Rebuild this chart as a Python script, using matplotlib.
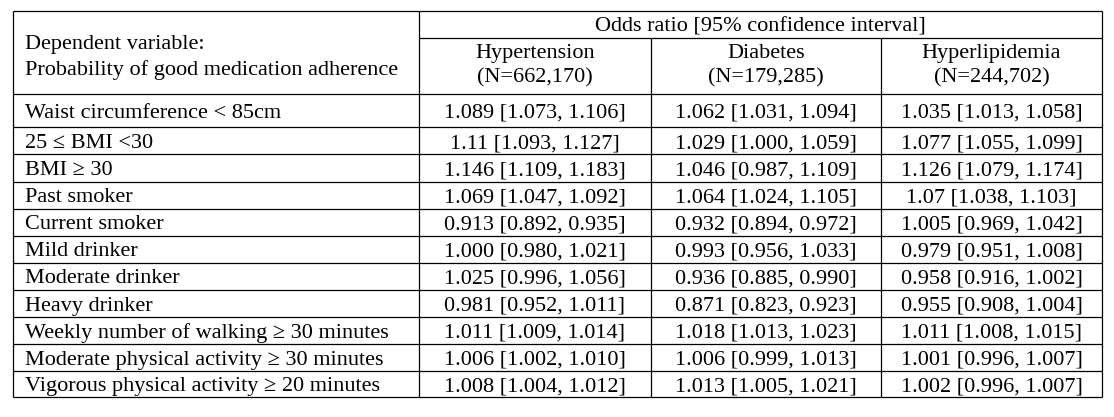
import matplotlib
matplotlib.use('Agg')
import matplotlib.pyplot as plt

# table content
row_labels = [
    "Waist circumference < 85cm",
    "25 \u2264 BMI <30",
    "BMI \u2265 30",
    "Past smoker",
    "Current smoker",
    "Mild drinker",
    "Moderate drinker",
    "Heavy drinker",
    "Weekly number of walking \u2265 30 minutes",
    "Moderate physical activity \u2265 30 minutes",
    "Vigorous physical activity \u2265 20 minutes",
]
groups = ["Hypertension", "Diabetes", "Hyperlipidemia"]
group_n = ["(N=662,170)", "(N=179,285)", "(N=244,702)"]

ht_or = ["1.089", "1.11", "1.146", "1.069", "0.913", "1.000", "1.025", "0.981", "1.011", "1.006", "1.008"]
ht_lo = ["1.073", "1.093", "1.109", "1.047", "0.892", "0.980", "0.996", "0.952", "1.009", "1.002", "1.004"]
ht_hi = ["1.106", "1.127", "1.183", "1.092", "0.935", "1.021", "1.056", "1.011", "1.014", "1.010", "1.012"]

dm_or = ["1.062", "1.029", "1.046", "1.064", "0.932", "0.993", "0.936", "0.871", "1.018", "1.006", "1.013"]
dm_lo = ["1.031", "1.000", "0.987", "1.024", "0.894", "0.956", "0.885", "0.823", "1.013", "0.999", "1.005"]
dm_hi = ["1.094", "1.059", "1.109", "1.105", "0.972", "1.033", "0.990", "0.923", "1.023", "1.013", "1.021"]

hl_or = ["1.035", "1.077", "1.126", "1.07", "1.005", "0.979", "0.958", "0.955", "1.011", "1.001", "1.002"]
hl_lo = ["1.013", "1.055", "1.079", "1.038", "0.969", "0.951", "0.916", "0.908", "1.008", "0.996", "0.996"]
hl_hi = ["1.058", "1.099", "1.174", "1.103", "1.042", "1.008", "1.002", "1.004", "1.015", "1.007", "1.007"]

fig = plt.figure(figsize=(11.14, 4.17), dpi=100)
ax = fig.add_axes([0, 0, 1, 1])
ax.set_xlim(0, 1114)
ax.set_ylim(417, 0)
ax.axis('off')

fs = 16
font = {'family': 'Liberation Serif', 'size': fs, 'color': 'black'}
half_cap = 0.662 * fs * 100 / 72 / 2  # shift so caps sit centred on a row
lw = 0.9

# grid geometry (pixels)
x_left, x_right = 12.7, 1102
col_x = [x_left, 419, 651, 881, x_right]
y_top, y_sub, y_head = 10.7, 37.5, 93.5
row_y = [y_head, 127.3, 154.3, 181.7, 208.5, 235.7, 262.5, 289.7, 317, 344, 370.7, 397]


def put(x, y, s, ha='center'):
    ax.text(x, y + half_cap, s, ha=ha, va='baseline', **font)


ax.hlines([y_top, y_head], x_left, x_right, color='black', lw=lw)
ax.hlines(y_sub, col_x[1], x_right, color='black', lw=lw)
ax.hlines(row_y[1:], x_left, x_right, color='black', lw=lw)
ax.vlines([x_left, col_x[1], x_right], y_top, row_y[-1], color='black', lw=lw)
ax.vlines(col_x[2:4], y_sub, row_y[-1], color='black', lw=lw)

# header
put(25, 42, "Dependent variable:", ha='left')
put(25, 67.5, "Probability of good medication adherence", ha='left')
put((col_x[1] + x_right) / 2, 24.5, "Odds ratio [95% confidence interval]")
for j in range(3):
    cx = (col_x[j + 1] + col_x[j + 2]) / 2
    put(cx, 50.5, groups[j])
    put(cx, 75.5, group_n[j])

# body
cols = [(ht_or, ht_lo, ht_hi), (dm_or, dm_lo, dm_hi), (hl_or, hl_lo, hl_hi)]
for i, label in enumerate(row_labels):
    cy = (row_y[i] + row_y[i + 1]) / 2
    put(25, cy, label, ha='left')
    for j, (o, lo, hi) in enumerate(cols):
        cx = (col_x[j + 1] + col_x[j + 2]) / 2
        put(cx, cy, o[i] + " [" + lo[i] + ", " + hi[i] + "]")

fig.savefig('out.png', dpi=100)
